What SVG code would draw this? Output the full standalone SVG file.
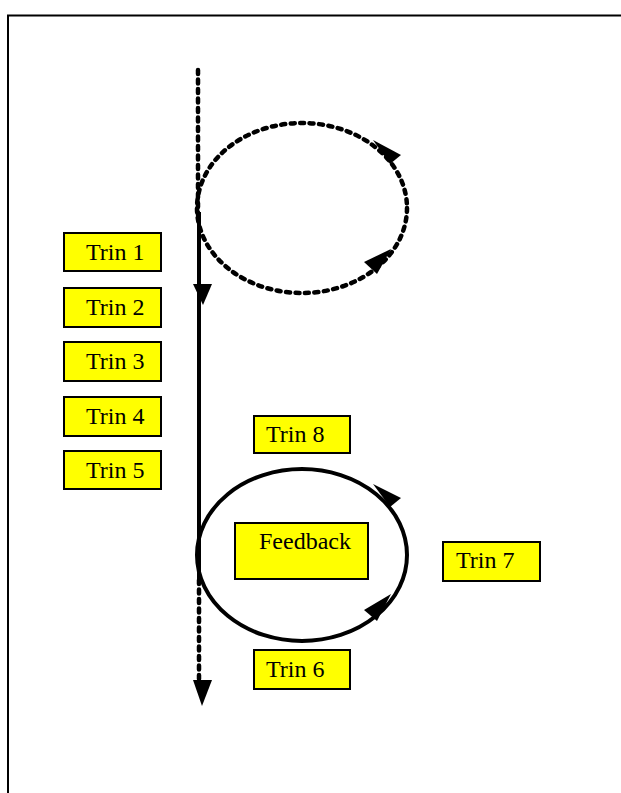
<svg xmlns="http://www.w3.org/2000/svg" width="621" height="793" viewBox="0 0 621 793">
<style>
.box{fill:#ffff00;stroke:#000;stroke-width:2}
.lbl{font-family:"Liberation Serif","Times New Roman",serif;font-size:24px;fill:#000}
.dash{fill:none;stroke:#000;stroke-width:4.5;stroke-dasharray:4 5.5;stroke-linecap:round}
.solid{fill:none;stroke:#000;stroke-width:4}
.head{fill:#000;stroke:none}
</style>
<rect x="0" y="0" width="621" height="793" fill="#fff"/>
<path d="M8,793 V15.5 H621" fill="none" stroke="#000" stroke-width="2"/>
<g id="connectors">
<line class="dash" x1="198" y1="70" x2="198" y2="215"/>
<line class="solid" x1="199" y1="212" x2="199" y2="580"/>
<line class="dash" x1="199" y1="580" x2="199" y2="682"/>
<polygon class="head" points="193,284 212,284 203,305"/>
<polygon class="head" points="193,680 212,680 202,706"/>
<ellipse class="dash" cx="302" cy="208" rx="105" ry="85"/>
<polygon class="head" points="373,140 401,155 390,164"/>
<polygon class="head" points="364,262 377,274 391,249"/>
<ellipse class="solid" cx="302" cy="555" rx="105" ry="86"/>
<polygon class="head" points="373,484 401,498 390,507"/>
<polygon class="head" points="364,610 377,621 391,594"/>
</g>
<g id="trin1"><rect class="box" x="64" y="233" width="97" height="38"/><text class="lbl" x="86" y="260">Trin 1</text></g>
<g id="trin2"><rect class="box" x="64" y="288" width="97" height="39"/><text class="lbl" x="86" y="315">Trin 2</text></g>
<g id="trin3"><rect class="box" x="64" y="342" width="97" height="39"/><text class="lbl" x="86" y="369">Trin 3</text></g>
<g id="trin4"><rect class="box" x="64" y="397" width="97" height="39"/><text class="lbl" x="86" y="424">Trin 4</text></g>
<g id="trin5"><rect class="box" x="64" y="451" width="97" height="38"/><text class="lbl" x="86" y="478">Trin 5</text></g>
<g id="trin8"><rect class="box" x="254" y="416" width="96" height="37"/><text class="lbl" x="266" y="442">Trin 8</text></g>
<g id="feedback"><rect class="box" x="235" y="523" width="133" height="56"/><text class="lbl" x="259" y="549">Feedback</text></g>
<g id="trin7"><rect class="box" x="443" y="542" width="97" height="39"/><text class="lbl" x="456" y="568">Trin 7</text></g>
<g id="trin6"><rect class="box" x="254" y="650" width="96" height="39"/><text class="lbl" x="266" y="677">Trin 6</text></g>
</svg>
